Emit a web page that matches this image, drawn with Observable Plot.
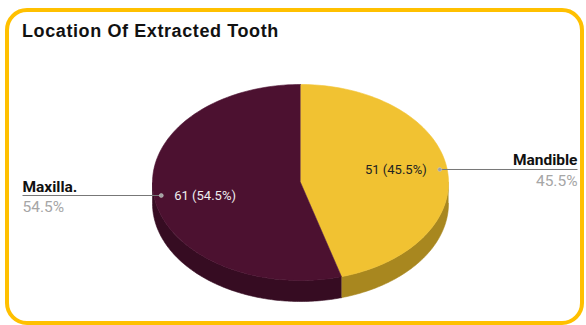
<!DOCTYPE html>
<html>
<head>
<meta charset="utf-8">
<script src="https://cdn.jsdelivr.net/npm/d3@7"></script>
<script src="https://cdn.jsdelivr.net/npm/@observablehq/plot@0.6"></script>
<style>
  html, body { margin: 0; padding: 0; background: #fff; }
  #wrap { position: relative; width: 586px; height: 325px; overflow: hidden; }
  #frame { position: absolute; left: 5px; top: 8px; width: 579px; height: 317px; box-sizing: border-box;
           border: 4.5px solid #ffc000; border-radius: 22px; pointer-events: none; }
  #title { position: absolute; left: 22px; top: 22px; font: bold 18px "Liberation Sans", Arial, sans-serif;
           letter-spacing: 0.6px; line-height: 18px; color: #111; white-space: nowrap; }
  #chart { position: absolute; left: 0; top: 0; }
</style>
</head>
<body>
<div id="wrap">
  <div id="chart"></div>
  <div id="frame"></div>
  <div id="title">Location Of Extracted Tooth</div>
</div>
<script>
// ---- data ----
const categories = ["Mandible", "Maxilla."];
const values = [51, 61];
const topColors = ["#f1c232", "#4c1130"];
const sideColors = ["#a8871f", "#360c22"];
const innerTextColors = ["#222222", "#eeeeee"];

// ---- layout ----
const W = 586, H = 325;
const cx = 300, cy = 182, rx = 148, ry = 98, depth = 21;
const total = d3.sum(values);
const arcs = d3.pie().sort(null)(values);
const pt = (a, k = 1, dz = 0) => [cx + k * rx * Math.sin(a), cy - k * ry * Math.cos(a) + dz];

const tops = [], sides = [];
arcs.forEach((a, i) => {
  const n = 120;
  tops.push({id: "t" + i, x: cx, y: cy, c: topColors[i]});
  for (let j = 0; j <= n; j++) {
    const t = a.startAngle + (a.endAngle - a.startAngle) * j / n;
    const [x, y] = pt(t);
    tops.push({id: "t" + i, x, y, c: topColors[i]});
  }
  const s0 = Math.max(a.startAngle, Math.PI / 2), s1 = Math.min(a.endAngle, 3 * Math.PI / 2);
  if (s1 > s0) {
    const ring = [];
    for (let j = 0; j <= n; j++) ring.push(pt(s0 + (s1 - s0) * j / n));
    for (let j = n; j >= 0; j--) ring.push(pt(s0 + (s1 - s0) * j / n, 1, depth));
    ring.forEach(([x, y]) => sides.push({id: "s" + i, x, y, c: sideColors[i]}));
  }
});

const labels = arcs.map((a, i) => {
  const mid = (a.startAngle + a.endAngle) / 2;
  const [x, y] = pt(mid, 0.95);
  const right = Math.sin(mid) > 0;
  const pct = (100 * values[i] / total).toFixed(1) + "%";
  return {
    x, y, right,
    inner: `${values[i]} (${pct})`,
    innerX: x + (right ? -13 : 13),
    outerX: right ? 577 : 22,
    name: categories[i], pct,
    innerFill: innerTextColors[i]
  };
});
const R = labels.filter(d => d.right), L = labels.filter(d => !d.right);

const textMarks = (data, side) => [
  Plot.text(data, {x: "innerX", y: "y", text: "inner", fill: "innerFill",
    textAnchor: side === "R" ? "end" : "start", lineAnchor: "middle",
    fontFamily: "Roboto", fontSize: 13}),
  Plot.text(data, {x: "outerX", y: d => d.y - 4, text: "name", fill: "#111",
    textAnchor: side === "R" ? "end" : "start", lineAnchor: "bottom",
    fontFamily: "Roboto", fontWeight: "bold", fontSize: 15.5}),
  Plot.text(data, {x: "outerX", y: d => d.y + 5, text: "pct", fill: "#a6a6a6",
    textAnchor: side === "R" ? "end" : "start", lineAnchor: "top",
    fontFamily: "Roboto", fontSize: 15.5})
];

const plot = Plot.plot({
  width: W, height: H,
  margin: 0,
  x: {type: "identity", axis: null},
  y: {type: "identity", axis: null},
  color: {type: "identity"},
  style: {background: "transparent"},
  marks: [
    Plot.line(sides, {x: "x", y: "y", z: "id", fill: "c", stroke: "c", strokeWidth: 0.6, curve: "linear"}),
    Plot.line(tops, {x: "x", y: "y", z: "id", fill: "c", stroke: "c", strokeWidth: 0.6, curve: "linear"}),
    Plot.link(labels, {x1: "x", y1: "y", x2: "outerX", y2: "y", stroke: "#777", strokeWidth: 1}),
    Plot.dot(labels, {x: "x", y: "y", r: 2, fill: "#a0a0a0", stroke: "#cfcfcf", strokeWidth: 0.5}),
    ...textMarks(R, "R"),
    ...textMarks(L, "L")
  ]
});
document.getElementById("chart").appendChild(plot);
</script>
</body>
</html>
